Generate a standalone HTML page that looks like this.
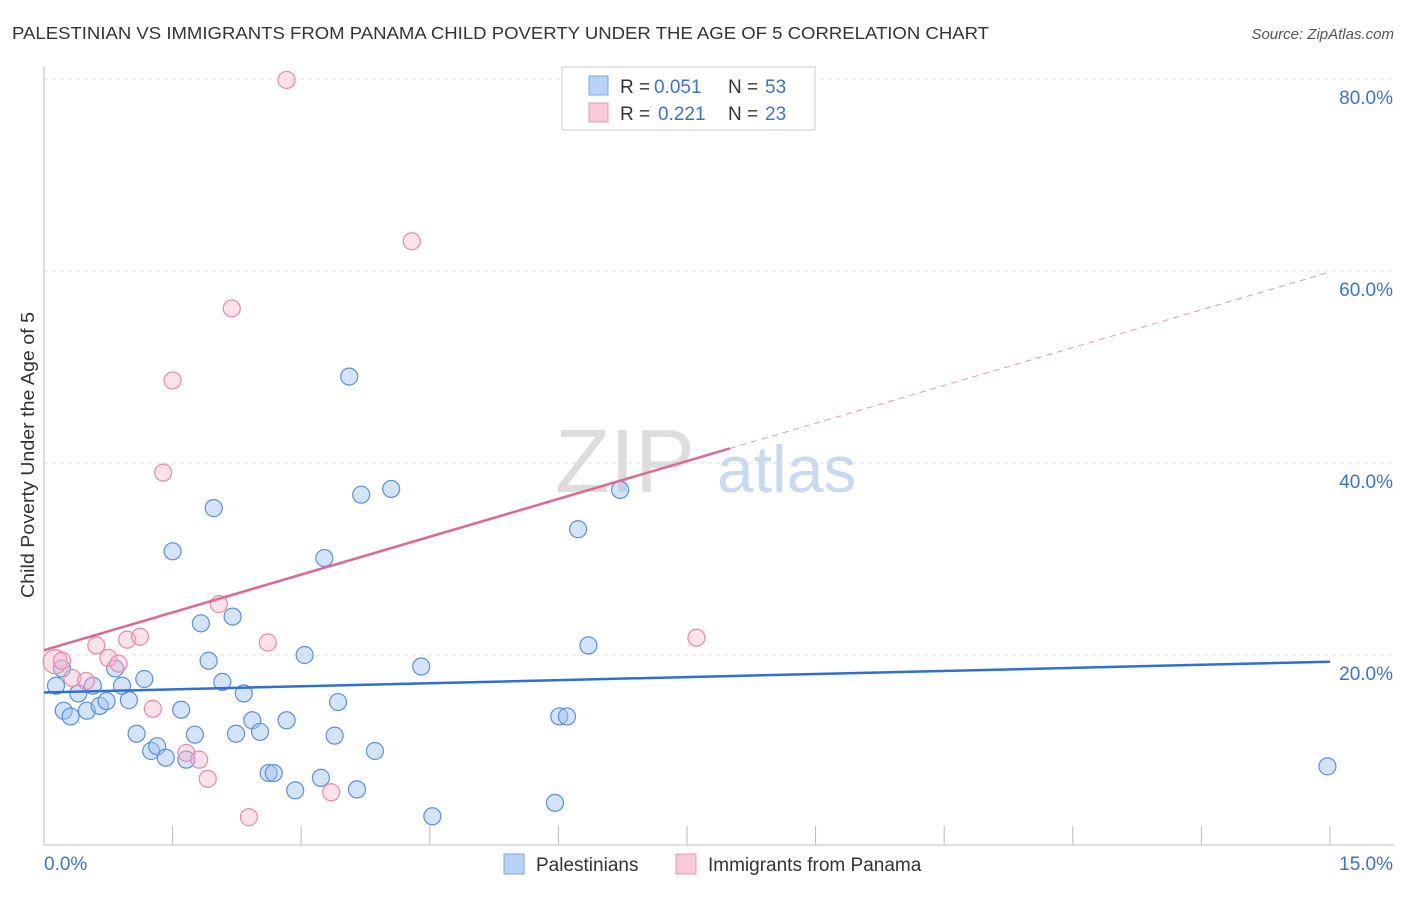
<!DOCTYPE html>
<html><head><meta charset="utf-8"><style>
body{margin:0;background:#fff;font-family:"Liberation Sans",sans-serif;}
svg text{font-family:"Liberation Sans",sans-serif;}
</style></head><body>
<svg id="c" width="1406" height="892">
<text x="12" y="39" font-size="17.5" fill="#333" textLength="977" lengthAdjust="spacingAndGlyphs">PALESTINIAN VS IMMIGRANTS FROM PANAMA CHILD POVERTY UNDER THE AGE OF 5 CORRELATION CHART</text>
<text x="1394" y="39" font-size="15" fill="#555" font-style="italic" text-anchor="end">Source: ZipAtlas.com</text>
<text x="0" y="0" transform="translate(34,455) rotate(-90)" font-size="18" fill="#333" text-anchor="middle" textLength="286" lengthAdjust="spacingAndGlyphs">Child Poverty Under the Age of 5</text>
<text x="555" y="492" font-size="90" fill="#ddd" font-family="Liberation Serif">ZIP</text>
<text x="717" y="492" font-size="66" fill="#c9d9f0">atlas</text>
<g id="grid"></g><g id="pts"></g><g id="lines"></g>
<g>
<rect x="562" y="67" width="253" height="63" fill="#fff" stroke="#ccc"/>
<rect x="589" y="76" width="19" height="19" fill="#b9d3f5" stroke="#7aa6e0"/>
<text x="620" y="93" font-size="19" fill="#333">R =</text>
<text x="654" y="93" font-size="19" fill="#3a72d1">0.051</text>
<text x="728" y="93" font-size="19" fill="#333">N =</text>
<text x="765" y="93" font-size="19" fill="#3a72d1">53</text>
<rect x="589" y="103" width="19" height="19" fill="#f8c9d6" stroke="#e89ab0"/>
<text x="620" y="120" font-size="19" fill="#333">R =</text>
<text x="658" y="120" font-size="19" fill="#3a72d1">0.221</text>
<text x="728" y="120" font-size="19" fill="#333">N =</text>
<text x="765" y="120" font-size="19" fill="#3a72d1">23</text>
</g>
<g>
<rect x="504" y="854" width="20" height="20" fill="#b9d3f5" stroke="#7aa6e0"/>
<text x="536" y="871" font-size="19" fill="#333">Palestinians</text>
<rect x="676" y="854" width="20" height="20" fill="#f8c9d6" stroke="#e89ab0"/>
<text x="708" y="871" font-size="19" fill="#333">Immigrants from Panama</text>
</g>
</svg>
<script>
const blueX=[0.14,0.21,0.23,0.31,0.40,0.50,0.57,0.65,0.73,0.83,0.91,0.99,1.08,1.17,1.25,1.32,1.42,1.50,1.60,1.66,1.76,1.83,1.92,1.98,2.08,2.20,2.24,2.33,2.43,2.52,2.62,2.68,2.83,2.93,3.04,3.23,3.27,3.39,3.43,3.56,3.65,3.70,3.86,4.05,4.40,4.53,5.96,6.01,6.10,6.23,6.35,6.72,14.97];
const blueY=[16.8,18.6,14.2,13.6,16.0,14.2,16.8,14.7,15.2,18.6,16.8,15.3,11.8,17.5,10.0,10.5,9.3,30.8,14.3,9.1,11.7,23.3,19.4,35.3,17.2,24.0,11.8,16.0,13.2,12.0,7.7,7.7,13.2,5.9,20.0,7.2,30.1,11.6,15.1,49.0,6.0,36.7,10.0,37.3,18.8,3.2,4.6,13.6,13.6,33.1,21.0,37.2,8.4];
const pinkX=[0.13,0.21,0.33,0.49,0.61,0.75,0.87,0.97,1.12,1.27,1.39,1.50,1.66,1.81,1.91,2.04,2.19,2.39,2.61,2.83,3.35,4.29,7.61];
const pinkY=[19.3,19.4,17.6,17.3,21.0,19.7,19.1,21.6,21.9,14.4,39.0,48.6,9.8,9.1,7.1,25.3,56.1,3.1,21.3,79.9,5.7,63.1,21.8];
const yTicks=[20,40,60,80];
const xTickLabels=["0.0%","15.0%"];
const blueTrend=[16.1,19.3];
const pinkTrend=[20.5,59.9];
const pinkSolidEnd=8.0;
const NS="http://www.w3.org/2000/svg";
const X=v=>44+v/15*1286, Y=v=>847-v*9.6;
function mk(p,t,a){const e=document.createElementNS(NS,t);for(const k in a)e.setAttribute(k,a[k]);p.appendChild(e);return e;}
const grid=document.getElementById('grid');
yTicks.forEach(t=>{
 const l=mk(grid,'line',{x1:44,x2:1394,y1:Y(t),y2:Y(t),stroke:'#ddd','stroke-dasharray':'4,4'});
 
 
 const tx=mk(grid,'text',{x:1393,y:Y(t)+25,'font-size':19,fill:'#3a72d1','text-anchor':'end'});
 tx.textContent=t.toFixed(1)+'%';
 
 
});
mk(grid,'line',{x1:44,x2:44,y1:67,y2:845,stroke:'#bbb'});
const ax=mk(grid,'line',{x1:44,x2:1394,y1:845,y2:845,stroke:'#bbb'});


for(let i=1;i<=10;i++){mk(grid,'line',{x1:X(i*1.5),x2:X(i*1.5),y1:826,y2:845,stroke:'#bbb'});}
const xl0=mk(grid,'text',{x:44,y:870,'font-size':19,fill:'#3a72d1'});xl0.textContent=xTickLabels[0];


const xl1=mk(grid,'text',{x:1393,y:870,'font-size':19,fill:'#3a72d1','text-anchor':'end'});xl1.textContent=xTickLabels[1];


const pts=document.getElementById('pts');
blueX.forEach((x,i)=>{const c=mk(pts,'circle',{cx:X(x),cy:Y(blueY[i]),r:8.5,fill:'rgba(160,195,240,0.45)',stroke:'#5b8fd9','stroke-width':1.2});
 
 });
pinkX.forEach((x,i)=>{const c=mk(pts,'circle',{cx:X(x),cy:Y(pinkY[i]),r:i==0?12:8.5,fill:'rgba(245,180,200,0.4)',stroke:'#e88aa6','stroke-width':1.2});
 
 });
const lines=document.getElementById('lines');
const bl=mk(lines,'line',{x1:X(0),y1:Y(blueTrend[0]),x2:X(15),y2:Y(blueTrend[1]),stroke:'#2f6fd0','stroke-width':2.5});


const pAt=v=>pinkTrend[0]+(pinkTrend[1]-pinkTrend[0])*v/15;
const pl=mk(lines,'line',{x1:X(0),y1:Y(pAt(0)),x2:X(pinkSolidEnd),y2:Y(pAt(pinkSolidEnd)),stroke:'#e26690','stroke-width':2.5});


const pd=mk(lines,'line',{x1:X(pinkSolidEnd),y1:Y(pAt(pinkSolidEnd)),x2:X(15),y2:Y(pAt(15)),stroke:'#e993ad','stroke-width':1,'stroke-dasharray':'6,5'});


</script>
</body></html>
